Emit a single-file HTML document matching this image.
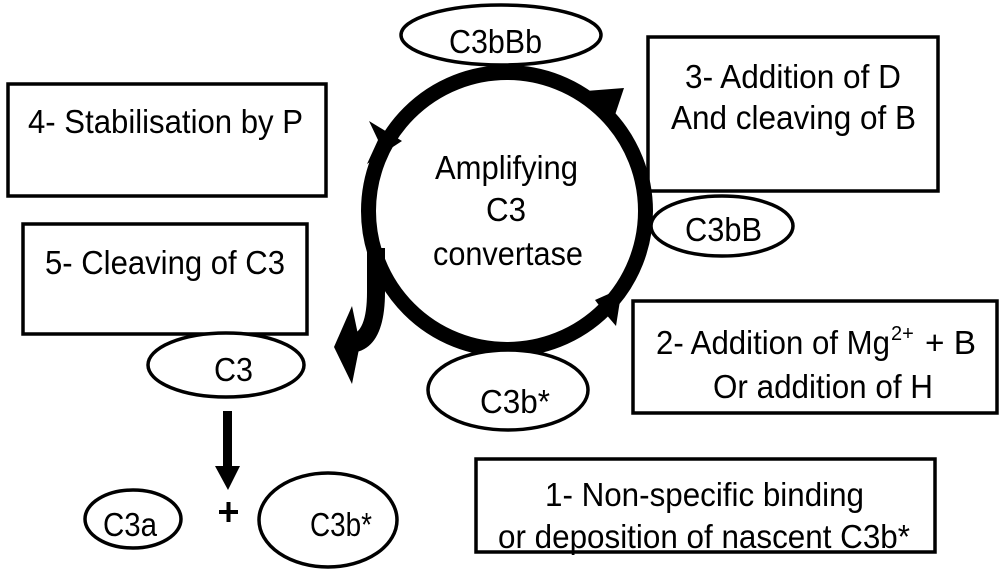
<!DOCTYPE html>
<html><head><meta charset="utf-8"><style>
html,body{margin:0;padding:0;background:#fff;}
svg{display:block;}
text{font-family:"Liberation Sans",Arial,sans-serif;font-size:33px;fill:#000;}
</style></head><body>
<svg width="1000" height="574" viewBox="0 0 1000 574" xmlns="http://www.w3.org/2000/svg">
<g fill="none" stroke="#000" stroke-width="3.5">
<rect x="8" y="84" width="318" height="112"/>
<rect x="23" y="224" width="284" height="110"/>
<rect x="648" y="37" width="290" height="154"/>
<rect x="633" y="301" width="364" height="112"/>
<rect x="476" y="459" width="459" height="93"/>
</g>
<text x="28" y="133" textLength="275" lengthAdjust="spacingAndGlyphs">4- Stabilisation by P</text>
<text x="45" y="274" textLength="240" lengthAdjust="spacingAndGlyphs">5- Cleaving of C3</text>
<text x="685" y="88" textLength="216" lengthAdjust="spacingAndGlyphs">3- Addition of D</text>
<text x="671" y="129" textLength="245" lengthAdjust="spacingAndGlyphs">And cleaving of B</text>
<text x="656" y="354" textLength="234" lengthAdjust="spacingAndGlyphs">2- Addition of Mg</text>
<text x="891" y="340" style="font-size:20px">2+</text>
<text x="925" y="354" textLength="51" lengthAdjust="spacingAndGlyphs">+ B</text>
<text x="713" y="398" textLength="220" lengthAdjust="spacingAndGlyphs">Or addition of H</text>
<text x="545" y="506" textLength="319" lengthAdjust="spacingAndGlyphs">1- Non-specific binding</text>
<text x="498" y="548" textLength="412" lengthAdjust="spacingAndGlyphs">or deposition of nascent C3b*</text>

<circle cx="507" cy="211" r="138.5" fill="none" stroke="#000" stroke-width="15"/>
<g fill="#fff" stroke="#000" stroke-width="3.5">
<ellipse cx="501" cy="35" rx="100" ry="30"/>
<ellipse cx="722" cy="226" rx="71" ry="30"/>
<ellipse cx="508" cy="390" rx="80" ry="40"/>
<ellipse cx="226" cy="365" rx="78" ry="32"/>
<ellipse cx="133" cy="519" rx="48" ry="29"/>
<ellipse cx="328" cy="520" rx="69" ry="47"/>
</g>
<text x="449" y="53" textLength="93" lengthAdjust="spacingAndGlyphs">C3bBb</text>
<text x="685" y="241" textLength="77" lengthAdjust="spacingAndGlyphs">C3bB</text>
<text x="480" y="413" textLength="70" lengthAdjust="spacingAndGlyphs">C3b*</text>
<text x="214" y="381" textLength="39" lengthAdjust="spacingAndGlyphs">C3</text>
<text x="103" y="536" textLength="54" lengthAdjust="spacingAndGlyphs">C3a</text>
<text x="310" y="536" textLength="62" lengthAdjust="spacingAndGlyphs">C3b*</text>
<text x="435" y="179" textLength="143" lengthAdjust="spacingAndGlyphs">Amplifying</text>
<text x="486" y="221" textLength="40" lengthAdjust="spacingAndGlyphs">C3</text>
<text x="433" y="265" textLength="150" lengthAdjust="spacingAndGlyphs">convertase</text>

<polygon points="573,92 624,88 610,130 598,112" fill="#000"/>
<polygon points="595,300 622,288 616,326 604,312" fill="#000"/>
<polygon points="369,121 402,141 367,164 378,140" fill="#000"/>

<path d="M376,248 L376,292 Q376,342 350,344" fill="none" stroke="#000" stroke-width="18"/>
<polygon points="352,306 334,347 352,384 360,344" fill="#000"/>

<rect x="223" y="411" width="9" height="58" fill="#000"/>
<polygon points="215,466 240,466 228,490" fill="#000"/>
<rect x="219" y="510" width="19" height="4" fill="#000"/>
<rect x="226.5" y="502" width="4" height="20" fill="#000"/>
</svg>
</body></html>
